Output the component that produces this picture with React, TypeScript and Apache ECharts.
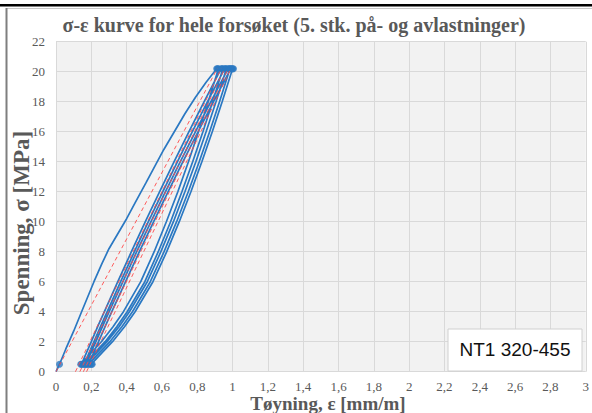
import { useEffect, useRef } from "react";
import * as echarts from "echarts";

const TITLE = "σ-ε kurve for hele forsøket (5. stk. på- og avlastninger)";
const X_NAME = "Tøyning, ε [mm/m]";
const Y_NAME = "Spenning, σ [MPa]";
const BOX_LABEL = "NT1 320-455";

// stress levels used for the unloading / reloading branches (ascending)
const SIGMA_LEVELS = [0.5, 1, 2, 3, 4, 6, 8, 10, 12, 14, 16, 18, 20.2];

// first loading
const LOAD1_SIGMA = [0, 0.5, 1.5, 2.7, 4, 5, 6, 7.2, 8.2, 9.2, 10.2, 11.3, 12.6, 13.7, 14.8, 16, 17.2, 18.3, 19.3, 20.2];
const LOAD1_EPS = [0, 0.02, 0.055, 0.1, 0.145, 0.18, 0.215, 0.26, 0.3, 0.35, 0.4, 0.45, 0.51, 0.56, 0.61, 0.67, 0.73, 0.79, 0.85, 0.91];

// unloading branches (strain at each SIGMA_LEVELS value)
const UNLOAD1_EPS = [0.14, 0.179, 0.257, 0.323, 0.382, 0.48, 0.556, 0.625, 0.69, 0.75, 0.807, 0.862, 0.92];
const UNLOAD2_EPS = [0.16, 0.199, 0.278, 0.344, 0.403, 0.503, 0.579, 0.649, 0.713, 0.774, 0.832, 0.887, 0.945];
const UNLOAD3_EPS = [0.17, 0.21, 0.289, 0.357, 0.416, 0.517, 0.594, 0.665, 0.73, 0.792, 0.85, 0.906, 0.965];
const UNLOAD4_EPS = [0.185, 0.225, 0.305, 0.373, 0.433, 0.534, 0.612, 0.683, 0.749, 0.811, 0.87, 0.926, 0.985];
const UNLOAD5_EPS = [0.2, 0.24, 0.32, 0.388, 0.448, 0.549, 0.627, 0.698, 0.764, 0.826, 0.885, 0.941, 1.0];

// reloading branches (strain at each SIGMA_LEVELS value)
const RELOAD2_EPS = [0.145, 0.163, 0.2, 0.236, 0.274, 0.35, 0.427, 0.506, 0.587, 0.669, 0.753, 0.839, 0.935];
const RELOAD3_EPS = [0.16, 0.178, 0.215, 0.252, 0.29, 0.366, 0.444, 0.523, 0.605, 0.688, 0.772, 0.858, 0.955];
const RELOAD4_EPS = [0.17, 0.188, 0.226, 0.263, 0.301, 0.379, 0.457, 0.538, 0.62, 0.704, 0.79, 0.877, 0.975];
const RELOAD5_EPS = [0.185, 0.203, 0.241, 0.278, 0.316, 0.394, 0.472, 0.553, 0.635, 0.719, 0.805, 0.892, 0.99];

// holding points (markers)
const TOP_SIGMA = 20.2;
const BOTTOM_SIGMA = 0.5;
const TOP_HOLD_EPS = [0.91, 0.915, 0.92, 0.935, 0.94, 0.945, 0.955, 0.96, 0.965, 0.975, 0.98, 0.985, 0.99, 0.995, 1.0, 1.005];
const BOTTOM_HOLD_EPS = [0.02, 0.14, 0.145, 0.15, 0.16, 0.165, 0.17, 0.175, 0.185, 0.19, 0.2, 0.205];

// red dashed secant lines
const SECANT_START_EPS = [0, 0.11, 0.135, 0.155, 0.173];
const SECANT_END_EPS = [0.913, 0.935, 0.955, 0.975, 0.99];
const SECANT_START_SIGMA = 0;
const SECANT_END_SIGMA = 20.2;

const X_TICKS = { min: 0, max: 3, interval: 0.2 };
const Y_TICKS = { min: 0, max: 22, interval: 2 };

const BLUE = "#2a78c2";
const TEXT_GREY = "#595959";
const SERIF = "'Liberation Serif', 'Times New Roman', serif";

function buildPath(): number[][] {
  const pts: number[][] = LOAD1_EPS.map((e, i) => [e, LOAD1_SIGMA[i]]);
  const unloads = [UNLOAD1_EPS, UNLOAD2_EPS, UNLOAD3_EPS, UNLOAD4_EPS, UNLOAD5_EPS];
  const reloads = [RELOAD2_EPS, RELOAD3_EPS, RELOAD4_EPS, RELOAD5_EPS];
  unloads.forEach((u, k) => {
    for (let i = u.length - 1; i >= 0; i--) pts.push([u[i], SIGMA_LEVELS[i]]);
    if (k < reloads.length) {
      const r = reloads[k];
      for (let i = 0; i < r.length; i++) pts.push([r[i], SIGMA_LEVELS[i]]);
    }
  });
  return pts;
}

export default function App() {
  const ref = useRef<HTMLDivElement>(null);
  useEffect(() => {
    if (!ref.current) return;
    const chart = echarts.init(ref.current, undefined, { renderer: "svg" });
    const holds = [
      ...TOP_HOLD_EPS.map((e) => [e, TOP_SIGMA]),
      ...BOTTOM_HOLD_EPS.map((e) => [e, BOTTOM_SIGMA]),
    ];
    const secants = SECANT_START_EPS.map((s, i) => ({
      type: "line",
      data: [
        [s, SECANT_START_SIGMA],
        [SECANT_END_EPS[i], SECANT_END_SIGMA],
      ],
      showSymbol: false,
      silent: true,
      z: 4,
      lineStyle: { color: "#ff4a4a", width: 1, type: [4, 3], opacity: 0.9 },
    }));
    const fmt = (v: number) => String(Math.round(v * 10) / 10).replace(".", ",");
    chart.setOption({
      animation: false,
      backgroundColor: "#ffffff",
      grid: {
        left: 56,
        right: 3.5,
        top: 41.7,
        bottom: 41.3,
        show: true,
        backgroundColor: "#f2f2f2",
        borderWidth: 0,
      },
      xAxis: {
        type: "value",
        ...X_TICKS,
        axisLine: { show: false },
        axisTick: { show: false },
        splitLine: { show: true, lineStyle: { color: "#d9d9d9", width: 1 } },
        axisLabel: {
          color: TEXT_GREY,
          fontFamily: SERIF,
          fontSize: 13,
          lineHeight: 13,
          margin: 8,
          formatter: fmt,
        },
      },
      yAxis: {
        type: "value",
        ...Y_TICKS,
        axisLine: { show: false },
        axisTick: { show: false },
        splitLine: { show: true, lineStyle: { color: "#d9d9d9", width: 1 } },
        axisLabel: {
          color: TEXT_GREY,
          fontFamily: SERIF,
          fontSize: 13,
          margin: 11,
          formatter: fmt,
        },
      },
      series: [
        {
          type: "line",
          data: buildPath(),
          showSymbol: false,
          silent: true,
          z: 3,
          lineStyle: { color: BLUE, width: 1.7 },
        },
        {
          type: "scatter",
          data: holds,
          symbol: "circle",
          symbolSize: 7,
          silent: true,
          z: 3,
          itemStyle: { color: BLUE },
        },
        ...secants,
      ],
      graphic: [
        { type: "rect", z: 100, shape: { x: 0, y: 4, width: 592, height: 2.5 }, style: { fill: "#000" } },
        { type: "line", z: 100, shape: { x1: 6, y1: 8.5, x2: 592, y2: 8.5 }, style: { stroke: "#c8c8c8", lineWidth: 1 } },
        { type: "line", z: 100, shape: { x1: 6.5, y1: 8, x2: 6.5, y2: 413 }, style: { stroke: "#7f7f7f", lineWidth: 2 } },
        {
          type: "text",
          z: 100,
          x: 294,
          y: 25,
          style: {
            text: TITLE,
            align: "center",
            verticalAlign: "middle",
            font: `bold 20px ${SERIF}`,
            fill: TEXT_GREY,
          },
        },
        {
          type: "text",
          z: 100,
          x: 328,
          y: 403.5,
          style: {
            text: X_NAME,
            align: "center",
            verticalAlign: "middle",
            font: `bold 19px ${SERIF}`,
            fill: TEXT_GREY,
          },
        },
        {
          type: "text",
          z: 100,
          x: 21,
          y: 223,
          rotation: Math.PI / 2,
          style: {
            text: Y_NAME,
            align: "center",
            verticalAlign: "middle",
            font: `bold 23px ${SERIF}`,
            fill: TEXT_GREY,
          },
        },
        {
          type: "rect",
          z: 100,
          shape: { x: 448, y: 329, width: 134, height: 42 },
          style: { fill: "#ffffff", stroke: "#d0d0d0", lineWidth: 1 },
        },
        {
          type: "text",
          z: 101,
          x: 515,
          y: 349,
          style: {
            text: BOX_LABEL,
            align: "center",
            verticalAlign: "middle",
            font: `19px 'Liberation Sans', Arial, sans-serif`,
            fill: "#111",
          },
        },
      ],
    });
    return () => chart.dispose();
  }, []);
  return (
    <div
      ref={ref}
      style={{ position: "fixed", left: 0, top: 0, width: 592, height: 413 }}
    />
  );
}
